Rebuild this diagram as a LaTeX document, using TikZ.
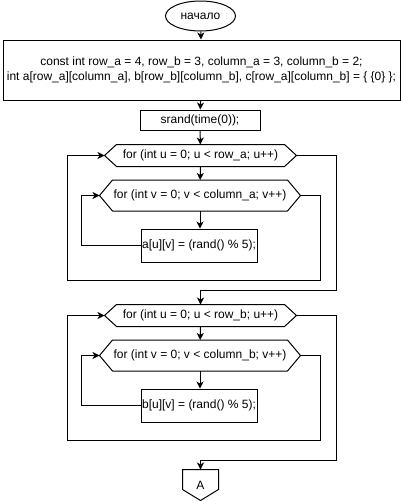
\documentclass[tikz,border=0pt]{standalone}
\usepackage{fontspec}
\setmainfont{Liberation Sans}
\usetikzlibrary{arrows.meta,shapes.geometric}
\tikzset{
  base/.style={line width=1pt, font=\fontsize{12}{15}\selectfont, inner sep=1pt},
  terminal/.style={base, draw, ellipse, minimum width=70pt, minimum height=30pt},
  procbox/.style={base, draw, rectangle, minimum height=30pt},
  hexnode/.style={base, rectangle, minimum height=30pt},
  offpage/.style={base, rectangle, minimum width=35pt, minimum height=30pt},
  border/.style={line width=1pt, line join=miter},
  arr/.style={line width=1pt, -{Stealth[length=7pt,width=7pt,inset=2pt]}},
}
% #1 node name, #2 slant
\newcommand\drawhex[2]{\draw[border]
  ([xshift=#2]#1.north west) -- ([xshift=-#2]#1.north east)
  -- (#1.east) -- ([xshift=-#2]#1.south east)
  -- ([xshift=#2]#1.south west) -- (#1.west) -- cycle;}
\newcommand\drawoffpage[1]{\draw[border]
  (#1.north west) -- (#1.north east)
  -- ([yshift=11pt]#1.south east) -- (#1.south)
  -- ([yshift=11pt]#1.south west) -- cycle;}
\begin{document}
\begin{tikzpicture}[x=1pt,y=-1pt]
\useasboundingbox (0,0) rectangle (401,501);
\node[terminal] (start) at (200.5,16) {начало};
\node[procbox, minimum width=397pt, minimum height=60pt, align=center] (decl) at (201.5,70)
  {const int row\_a = 4, row\_b = 3, column\_a = 3, column\_b = 2;\\
   int a[row\_a][column\_a], b[row\_b][column\_b], c[row\_a][column\_b] = \{ \{0\} \};};
\node[procbox, minimum width=120pt, minimum height=20pt] (srand) at (200,120) {srand(time(0));};
\node[hexnode, minimum width=191pt, minimum height=21pt] (f1) at (200.5,155.5) {for (int u = 0; u < row\_a; u++)};
\node[hexnode, minimum width=200pt] (g1) at (200,195.5) {for (int v = 0; v < column\_a; v++)};
\node[procbox, minimum width=116pt, minimum height=33pt] (ba) at (199,245.5) {a[u][v] = (rand() \% 5);};
\node[hexnode, minimum width=191pt, minimum height=21pt] (f2) at (200.5,315.5) {for (int u = 0; u < row\_b; u++)};
\node[hexnode, minimum width=200pt] (g2) at (200,355.5) {for (int v = 0; v < column\_b; v++)};
\node[procbox, minimum width=116pt, minimum height=33pt] (bb) at (199,405.5) {b[u][v] = (rand() \% 5);};
\node[offpage] (A) at (200.5,485) {A};
\drawhex{f1}{12pt}
\drawhex{g1}{13pt}
\drawhex{f2}{12pt}
\drawhex{g2}{13pt}
\drawoffpage{A}

\draw[arr] (start) -- (decl);
\draw[arr] (decl) -- (srand);
\draw[arr] (srand) -- (f1);
\draw[arr] (f1) -- (g1);
\draw[arr] (g1) -- (g1 |- ba.north);
\draw[arr] (ba.west) -| (81,195.5) -- (g1.west);
\draw[arr] (g1.east) -| (320,280) -| (67,155.5) -- (f1.west);
\draw[arr] (f1.east) -| (336,290) -| (f2.north);
\draw[arr] (f2) -- (g2);
\draw[arr] (g2) -- (g2 |- bb.north);
\draw[arr] (bb.west) -| (81,355.5) -- (g2.west);
\draw[arr] (g2.east) -| (320,440) -| (67,315.5) -- (f2.west);
\draw[arr] (f2.east) -| (336,460) -| (A.north);
\end{tikzpicture}
\end{document}
